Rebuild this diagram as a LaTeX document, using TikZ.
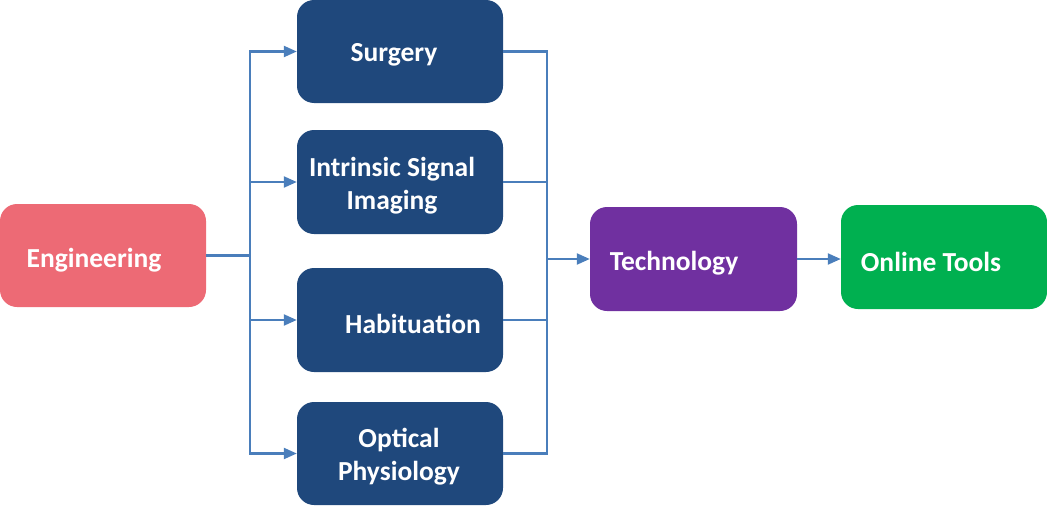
\documentclass[tikz,border=0pt]{standalone}
\usepackage{fontspec}
\setmainfont{Carlito}
\usetikzlibrary{arrows.meta}
\definecolor{engc}{HTML}{ED6A75}
\definecolor{bluec}{HTML}{1F487C}
\definecolor{techc}{HTML}{7030A0}
\definecolor{greenc}{HTML}{00B050}
\definecolor{linec}{HTML}{4A7EBB}
\tikzset{
  box/.style={rectangle, rounded corners=17pt, minimum width=206pt, minimum height=103pt, inner sep=0pt, draw=none},
  lbl/.style={text=white, font=\fontsize{27.5}{33}\selectfont\bfseries, align=center, inner sep=0pt},
  conn/.style={draw=linec, line width=2.2pt},
  arr/.style={conn, -{Triangle[length=13pt,width=11pt]}}
}
\begin{document}
\begin{tikzpicture}[x=1pt,y=-1pt]
\useasboundingbox (0,0) rectangle (1047,506);
\node[box, fill=engc] (eng) at (103,255.5) {};
\node[box, fill=bluec] (surg) at (400,51.5) {};
\node[box, fill=bluec, minimum height=104pt] (isi) at (400,182) {};
\node[box, fill=bluec, minimum height=104pt] (hab) at (400,320) {};
\node[box, fill=bluec] (opt) at (400,453.5) {};
\node[box, fill=techc, minimum width=207pt, minimum height=104pt] (tech) at (693.5,259) {};
\node[box, fill=greenc, minimum height=104pt] (online) at (944,257) {};

\node[lbl] (tEng) at (94,260) {Engineering};
\node[lbl] (tSurg) at (394,55) {Surgery};
\node[lbl] (tIsi) at (392,186) {Intrinsic Signal\\Imaging};
\node[lbl] (tHab) at (413,323.5) {Habituation};
\node[lbl] (tOpt) at (399,457) {Optical\\Physiology};
\node[lbl] (tTech) at (674,263.5) {Technology};
\node[lbl] (tOnl) at (931,261.5) {Online Tools};

\coordinate (jl) at (250,255.5);
\coordinate (jr) at (547,259);
\draw[conn] (eng.east) -- (jl);
\draw[conn] (250,51.5) -- (250,453.5);
\draw[arr] (jl) |- (surg.west);
\draw[arr] (jl) |- (isi.west);
\draw[arr] (jl) |- (hab.west);
\draw[arr] (jl) |- (opt.west);
\draw[conn] (surg.east) -| (jr);
\draw[conn] (isi.east) -| (jr);
\draw[conn] (hab.east) -| (jr);
\draw[conn] (opt.east) -| (jr);
\draw[arr] (jr) -- (tech.west);
\draw[arr] (tech.east) -- (tech.east -| online.west);
\end{tikzpicture}
\end{document}
